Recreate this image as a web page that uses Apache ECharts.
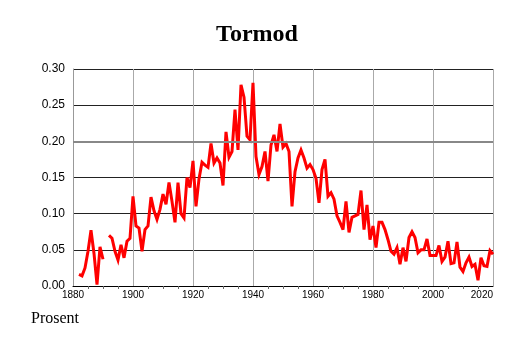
<!DOCTYPE html>
<html>
<head>
<meta charset="utf-8">
<script src="https://cdn.jsdelivr.net/npm/echarts@6/dist/echarts.min.js"></script>
<style>
  html, body { margin: 0; padding: 0; background: #fff; }
  #chart { width: 514px; height: 343px; }
</style>
</head>
<body>
<div id="chart"></div>
<script>
// Share of the name "Tormod" per year (percent); null marks a year without data
const years = [];
for (let y = 1880; y <= 2020; y++) years.push(y);

const values = [
  null, null, 0.016, 0.014, 0.025, 0.048, 0.077, 0.045, 0.002, 0.054,   // 1880-1889
  0.037, null, 0.070, 0.066, 0.048, 0.036, 0.057, 0.039, 0.062, 0.066,  // 1890-1899
  0.124, 0.083, 0.080, 0.048, 0.078, 0.083, 0.123, 0.104, 0.092, 0.106, // 1900-1909
  0.127, 0.113, 0.143, 0.117, 0.088, 0.143, 0.100, 0.094, 0.150, 0.136, // 1910-1919
  0.173, 0.110, 0.148, 0.171, 0.167, 0.164, 0.197, 0.170, 0.177, 0.170, // 1920-1929
  0.139, 0.213, 0.178, 0.186, 0.244, 0.188, 0.278, 0.261, 0.207, 0.202, // 1930-1939
  0.281, 0.179, 0.154, 0.165, 0.186, 0.145, 0.195, 0.209, 0.186, 0.224, // 1940-1949
  0.192, 0.197, 0.186, 0.110, 0.158, 0.177, 0.188, 0.177, 0.163, 0.168, // 1950-1959
  0.161, 0.149, 0.115, 0.161, 0.175, 0.124, 0.129, 0.120, 0.097, 0.088, // 1960-1969
  0.078, 0.117, 0.074, 0.095, 0.097, 0.099, 0.132, 0.078, 0.112, 0.064, // 1970-1979
  0.083, 0.053, 0.088, 0.088, 0.078, 0.064, 0.048, 0.044, 0.053, 0.030, // 1980-1989
  0.053, 0.034, 0.067, 0.075, 0.067, 0.046, 0.050, 0.050, 0.065, 0.042, // 1990-1999
  0.042, 0.042, 0.056, 0.034, 0.040, 0.062, 0.031, 0.032, 0.061, 0.026, // 2000-2009
  0.020, 0.032, 0.040, 0.027, 0.030, 0.008, 0.039, 0.028, 0.027, 0.049, // 2010-2019
  0.044                                                                 // 2020
];

const xTicks = [1880, 1900, 1920, 1940, 1960, 1980, 2000, 2020];
const yTicks = [0, 0.05, 0.10, 0.15, 0.20, 0.25, 0.30];
const emphasisLevel = 0.20;

const chart = echarts.init(document.getElementById('chart'), null, { renderer: 'canvas' });

chart.setOption({
  animation: false,
  backgroundColor: '#ffffff',
  title: {
    text: 'Tormod',
    left: 'center',
    top: 18,
    textStyle: { fontFamily: 'Liberation Serif', fontWeight: 'bold', fontSize: 24, color: '#000' }
  },
  graphic: [{
    type: 'text',
    left: 31,
    top: 311,
    style: { text: 'Prosent', font: '16px "Liberation Serif"', fill: '#000' }
  }],
  grid: { left: 73, right: 21, top: 69, bottom: 57, containLabel: false },
  xAxis: {
    type: 'value',
    min: xTicks[0],
    max: xTicks[xTicks.length - 1],
    interval: 20,
    axisLine: { show: true, lineStyle: { color: '#000', width: 1 } },
    axisTick: { show: false },
    minorTick: { show: true, splitNumber: 4, length: 3, lineStyle: { color: '#666', width: 1 } },
    splitLine: { show: true, lineStyle: { color: '#aaa', width: 1 } },
    axisLabel: {
      margin: 4,
      fontFamily: 'Liberation Sans',
      fontSize: 10,
      color: '#000',
      alignMaxLabel: 'right',
      formatter: v => String(v)
    }
  },
  yAxis: {
    type: 'value',
    min: yTicks[0],
    max: yTicks[yTicks.length - 1],
    interval: 0.05,
    axisLine: { show: true, lineStyle: { color: '#999', width: 1 } },
    axisTick: { show: false },
    splitLine: { show: true, lineStyle: { color: '#222', width: 1 } },
    axisLabel: {
      margin: 8,
      fontFamily: 'Liberation Sans',
      fontSize: 12,
      color: '#000',
      formatter: v => v.toFixed(2)
    }
  },
  series: [
    {
      type: 'line',
      z: 1,
      data: [],
      silent: true,
      markLine: {
        silent: true,
        symbol: 'none',
        label: { show: false },
        lineStyle: { color: '#888', width: 2, type: 'solid' },
        data: [{ yAxis: emphasisLevel }]
      }
    },
    {
      type: 'line',
      z: 3,
      data: years.map((y, i) => [y, values[i]]),
      showSymbol: false,
      connectNulls: false,
      lineStyle: { color: '#ff0000', width: 3, join: 'miter', miterLimit: 4 },
      itemStyle: { color: '#ff0000' }
    }
  ]
});
</script>
</body>
</html>
